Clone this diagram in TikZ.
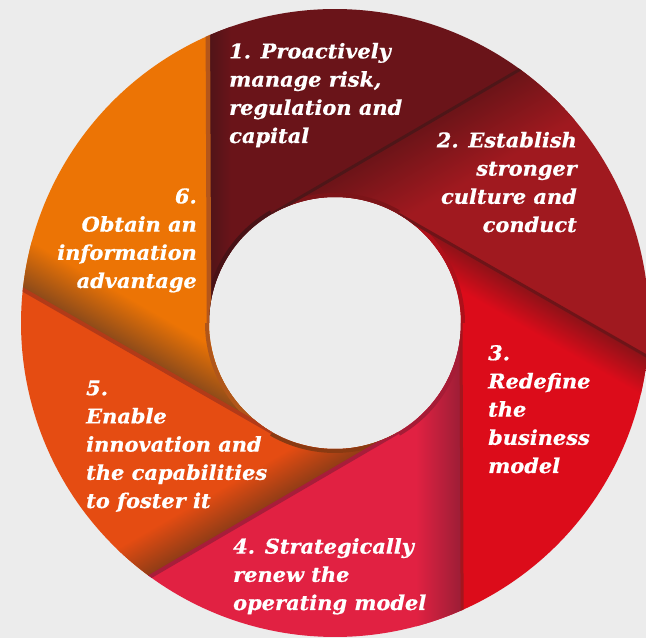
\documentclass[tikz,border=0pt]{standalone}
\usepackage{fontspec}
\setmainfont{DejaVu Serif}[FakeStretch=1.03, BoldItalicFeatures={FakeBold=0.7}]
\usetikzlibrary{calc}
\definecolor{bg}{HTML}{ECECEC}
\definecolor{sa}{HTML}{6A1419}\definecolor{da}{HTML}{501418}\definecolor{ra}{HTML}{481216}
\definecolor{sb}{HTML}{A0191F}\definecolor{db}{HTML}{6C1418}\definecolor{rb}{HTML}{7C1418}
\definecolor{sc}{HTML}{DC0C1A}\definecolor{dc}{HTML}{8E1218}\definecolor{rc}{HTML}{AE101A}
\definecolor{sd}{HTML}{E12142}\definecolor{dd}{HTML}{9C1E36}\definecolor{rd}{HTML}{A61C36}
\definecolor{se}{HTML}{E54C12}\definecolor{de}{HTML}{8E3C16}\definecolor{re}{HTML}{8A3A12}
\definecolor{sf}{HTML}{EC7405}\definecolor{df}{HTML}{8C4A1A}\definecolor{rf}{HTML}{B0561A}
\definecolor{la}{HTML}{B4561A}\definecolor{lb}{HTML}{4E1618}\definecolor{lc}{HTML}{6E1418}
\definecolor{ld}{HTML}{A3161E}\definecolor{le}{HTML}{A81D3A}\definecolor{lf}{HTML}{B23A18}
\newcommand\drawblade[5]{%
  \begin{scope}
    \path[clip] ($(C)+(#1:\rin)$) -- ($(C)+(#1-\dang:\Rout)$)
      arc[start angle=#1-\dang, end angle=#1-\dang-60, radius=\Rout]
      -- ($(C)+(#1-60:\rin)$) arc[start angle=#1-60, end angle=#1, radius=\rin] -- cycle;
    \fill[#2] (C) circle (\Rout+5);
    \begin{scope}[transform canvas={shift={($(C)+(#1:\rin)$)}, rotate=#1-90}]
      \shade[top color=#3, bottom color=#2] (-30,-#4) rectangle (\Ltan+40,0);
    \end{scope}
    \draw[#5, line width=8] ($(C)+(#1-60:\rin)$) arc[start angle=#1-60, end angle=#1, radius=\rin];
  \end{scope}}
\tikzset{lbl/.style={inner sep=0pt, text=white, font=\fontsize{20.3}{28.2}\selectfont\bfseries\itshape},
  edge/.style={line width=#1}}
\begin{document}
\begin{tikzpicture}[x=1pt,y=1pt]
\useasboundingbox (0,0) rectangle (646,638);
\fill[bg] (0,0) rectangle (646,638);
\def\Rout{314}\def\rin{126}\def\Ltan{287.6}\def\dang{66.35}
\coordinate (C) at (335,315);
\drawblade{180}{sa}{da}{22}{ra}
\drawblade{120}{sb}{db}{70}{rb}
\drawblade{60}{sc}{dc}{35}{rc}
\drawblade{0}{sd}{dd}{45}{rd}
\drawblade{-60}{se}{de}{40}{re}
\drawblade{-120}{sf}{df}{45}{rf}
\begin{scope}[even odd rule]
  \clip (C) circle (\Rout) (C) circle (\rin);
  \foreach \a/\c/\w in {180/la/4.5,120/lb/3,60/lc/3,0/ld/3,-60/le/4,-120/lf/4}{
    \coordinate (T) at ($(C)+(\a:\rin)$);
    \coordinate (E) at ($(C)+(\a-\dang:\Rout+3)$);
    \draw[\c, edge=\w] (T) -- (E);
  }
\end{scope}
\node[lbl, anchor=base west, align=left] (l1) at (229,495) {1. Proactively\\manage risk,\\regulation and\\capital};
\node[lbl, anchor=base east, align=right] (l2) at (577,406) {2. Establish\\stronger\\culture and\\conduct};
\node[lbl, anchor=base west, align=left] (l3) at (488,165) {3.\\Redefine\\the\\business\\model};
\node[lbl, anchor=base west, align=left] (l4) at (233,28) {4. Strategically\\renew the\\operating model};
\node[lbl, anchor=base west, align=left] (l5) at (86,130) {5.\\Enable\\innovation and\\the capabilities\\to foster it};
\node[lbl, anchor=base east, align=right] (l6) at (197,350) {6.\\Obtain an\\information\\advantage};
\end{tikzpicture}
\end{document}
